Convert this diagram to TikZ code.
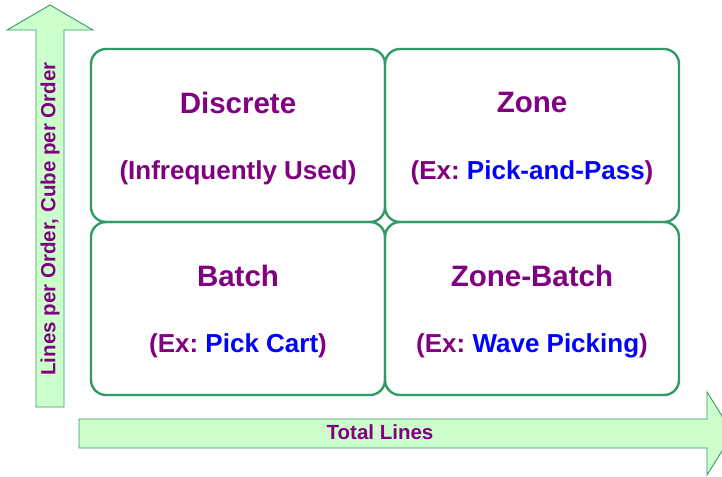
\documentclass[tikz,border=0pt]{standalone}
\usepackage{fontspec}
\setmainfont{Liberation Sans}
\usepackage{tikz}
\usetikzlibrary{positioning,calc}
\definecolor{seagreen}{HTML}{339966}
\definecolor{lightgreen}{HTML}{CCFFCC}
\definecolor{purple}{RGB}{128,0,128}
\definecolor{blue}{RGB}{0,0,255}
\frenchspacing

\begin{document}
\begin{tikzpicture}[
        x=1pt, y=1pt,
        quad/.style={draw=seagreen, line width=2.4pt, rounded corners=15pt, minimum width=294pt, minimum height=173pt, outer sep=0pt, inner sep=0pt},
        axis/.style={draw=seagreen, line width=0.9pt, fill=lightgreen},
        title/.style={text=purple, font=\fontsize{29.5}{33}\selectfont\bfseries},
        sub/.style={text=purple, font=\fontsize{26}{30}\selectfont\bfseries},
        axislabel/.style={text=purple, font=\fontsize{20.5}{24}\selectfont\bfseries, inner sep=0pt}
    ]
        \useasboundingbox (0,0) rectangle (722,-476);

        % axes
        \draw[axis] (36,-407) -- (36,-30) -- (7,-30) -- (50,-5) -- (93,-30) -- (64,-30) -- (64,-407) -- cycle;
        \draw[axis] (79,-419) -- (707,-419) -- (707,-392) -- (733,-433.5) -- (707,-475) -- (707,-448) -- (79,-448) -- cycle;
        \node[axislabel, rotate=90] (ylab) at (50,-219) {Lines per Order, Cube per Order};
        \node[axislabel] (xlab) at (380,-432) {Total Lines};

        % quadrants
        \node[quad, anchor=north west] (disc) at (91,-49) {};
        \node[quad, right=0pt of disc] (zone) {};
        \node[quad, below=0pt of disc] (batch) {};
        \node[quad, right=0pt of batch] (zbatch) {};

        \node[title] (discT) at ($(disc.center)+(0,33)$) {Discrete};
        \node[sub] (discS) at ($(disc.center)+(0,-37)$) {(Infrequently Used)};
        \node[title] (zoneT) at ($(zone.center)+(0,33)$) {Zone};
        \node[sub] (zoneS) at ($(zone.center)+(0,-37)$) {(Ex: \textcolor{blue}{Pick-and-Pass})};
        \node[title] (batchT) at ($(batch.center)+(0,33)$) {Batch};
        \node[sub] (batchS) at ($(batch.center)+(0,-37)$) {(Ex: \textcolor{blue}{Pick Cart})};
        \node[title] (zbatchT) at ($(zbatch.center)+(0,33)$) {Zone-Batch};
        \node[sub] (zbatchS) at ($(zbatch.center)+(0,-37)$) {(Ex: \textcolor{blue}{Wave Picking})};
    \end{tikzpicture}
\end{document}
